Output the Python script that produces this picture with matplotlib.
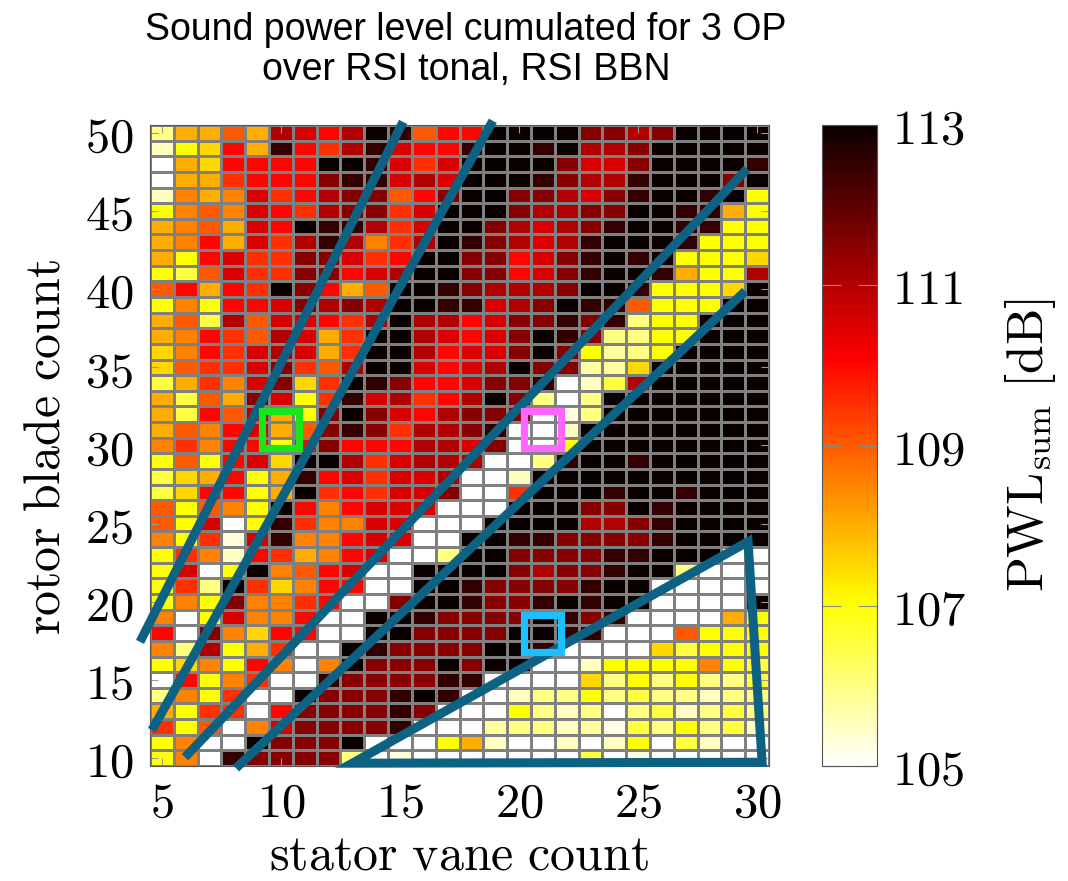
import matplotlib
matplotlib.use("Agg")
import matplotlib.pyplot as plt
import numpy as np
from matplotlib.patches import Rectangle, Polygon
from matplotlib.ticker import FuncFormatter

# ---------------- data ----------------
stator_vanes = list(range(5, 31))      # x categories
rotor_blades = list(range(50, 9, -1))  # y categories, top row first
pwl_min, pwl_max = 105, 113
cbar_ticks = [105, 107, 109, 111, 113]
x_ticks = [5, 10, 15, 20, 25, 30]
y_ticks = [10, 15, 20, 25, 30, 35, 40, 45, 50]

# level above 105 dB, one row per rotor blade count (50 -> 10), stator 5..30
pwl_excess_rows = [
    [1, 3, 3, 4, 3, 6, 5.5, 5, 6, 8, 7.5, 4, 5, 5, 8, 8, 8, 8, 6.5, 6.5, 6, 6.5, 8, 8, 8, 8],                # 50
    [0.5, 2, 2.5, 5, 3, 7.5, 5, 4.5, 6, 7.5, 5.5, 5, 5, 7.5, 8, 8, 7.5, 8, 6, 6, 6.5, 8, 8, 8, 8, 8],        # 49
    [0, 3, 2.5, 5, 5, 5, 5, 8, 8, 7.5, 5.5, 4.5, 5.5, 8, 8, 8, 8, 6.5, 5.5, 5.5, 6.5, 8, 8, 8, 8, 7.5],      # 48
    [0, 3, 3, 4.5, 5, 5, 5, 6.5, 7.5, 7.5, 5.5, 6, 5.5, 8, 8, 8, 7.5, 6.5, 6, 6, 7.5, 8, 8, 8, 6.5, 8],      # 47
    [0.5, 3.5, 3, 3.5, 5.5, 4.5, 5, 6, 6.5, 6.5, 4, 5, 6.5, 8, 8, 6.5, 6.5, 6, 5.5, 6.5, 7.5, 8, 8, 7.5, 8, 2],  # 46
    [2, 3.5, 4, 3.5, 5.5, 5, 4.5, 6, 6.5, 6.5, 4.5, 5.5, 8, 8, 8, 6.5, 6, 6, 6.5, 6.5, 8, 8, 7.5, 7.5, 3, 2],  # 45
    [3, 3.5, 4, 3, 5.5, 5, 8, 7.5, 7.5, 6, 4.5, 5.5, 8, 8, 6.5, 6, 5.5, 6, 6.5, 7.5, 8, 8, 7.5, 7.5, 2, 2],  # 44
    [3, 3.5, 5, 3, 5.5, 4.5, 6, 7.5, 6, 3.5, 4.5, 6, 8, 7.5, 6.5, 6, 5.5, 6, 7.5, 8, 8, 8, 7.5, 2, 2, 2],    # 43
    [3, 2, 5, 5.5, 4.5, 4.5, 6.5, 6.5, 5.5, 4.5, 5, 8, 8, 6.5, 6.5, 5, 5.5, 6.5, 7.5, 8, 7.5, 8, 2, 2, 2, 2.5],  # 42
    [2, 1.5, 4, 5.5, 4.5, 4.5, 6.5, 6.5, 5, 5.5, 6, 8, 8, 6.5, 6.5, 5, 5.5, 6.5, 7.5, 8, 8, 7.5, 3, 2, 2, 6],  # 41
    [4, 5, 3, 5, 4.5, 8, 6.5, 5, 3, 4, 8, 8, 7.5, 6.5, 6, 6, 6, 6.5, 8, 8, 7.5, 2, 2, 2, 2.5, 8],            # 40
    [2, 3.5, 2, 5, 5, 5.5, 6.5, 6, 6.5, 6, 8, 8, 7.5, 7.5, 5.5, 6, 6.5, 8, 7.5, 7.5, 4, 2, 2, 2, 8, 8],      # 39
    [3, 4, 1.5, 6, 4, 5.5, 5.5, 5, 4.5, 6, 8, 6, 6, 5, 5.5, 6.5, 6.5, 7.5, 6.5, 7.5, 1, 2, 2, 8, 8, 8],      # 38
    [3, 3.5, 5, 4.5, 4, 6, 5.5, 3, 4.5, 8, 8, 6, 5.5, 5, 5.5, 6.5, 8, 7.5, 6.5, 1, 1, 2, 2, 8, 8, 8],        # 37
    [2.5, 3.5, 5, 4.5, 5.5, 6, 5.5, 3, 4.5, 8, 8, 6, 5, 5.5, 5.5, 6.5, 8, 6.5, 2, 0.8, 1, 2, 8, 8, 8, 8],    # 36
    [2.5, 4, 4.5, 4.5, 5.5, 6.5, 4.5, 4, 6, 8, 8, 5.5, 5, 5.5, 6, 8, 6.5, 6.5, 0.8, 0.8, 2.5, 8, 8, 8, 8, 8],  # 35
    [1.5, 3, 4.5, 3.5, 5.5, 6.5, 2.5, 4.5, 8, 7.5, 6.5, 5, 5, 5.5, 6.5, 6.5, 7.5, 0, 0.5, 1.5, 6, 8, 8, 8, 8, 8],  # 34
    [3, 1.5, 4, 3, 6.5, 5.5, 2, 4.5, 7.5, 5.5, 6, 4.5, 5, 6, 8, 6.5, 1, 0, 1, 8, 8, 8, 8, 8, 8, 8],          # 33
    [3, 1.5, 5, 4, 6, 3, 2, 6.5, 8, 6.5, 5.5, 5, 6, 6.5, 6.5, 6.5, 0, 0.3, 1, 8, 8, 8, 8, 8, 8, 8],          # 32
    [3, 4, 3.5, 5, 5.5, 3, 4, 6.5, 7.5, 6.5, 4.5, 6, 6, 6.5, 7.5, 0, 0, 0.5, 8, 8, 8, 8, 8, 8, 8, 8],        # 31
    [3.5, 4.5, 3.5, 5, 5, 2, 5, 6.5, 5, 5, 5, 6, 6, 5.5, 6.5, 0, 0, 2, 8, 8, 8, 8, 8, 8, 8, 8],              # 30
    [2, 4, 2, 5, 5.5, 2.5, 8, 8, 6, 4.5, 5.5, 6, 6, 6, 0, 0, 1, 7.5, 8, 8, 7.5, 8, 8, 8, 8, 8],              # 29
    [1.5, 2.5, 3, 5, 2, 3, 7.5, 5, 5.5, 4.5, 5.5, 5.5, 6, 0, 0, 0.5, 8, 8, 8, 8, 8, 8, 8, 8, 8, 8],          # 28
    [1.5, 2.5, 5, 5, 2, 3, 8, 4.5, 5, 4.5, 5.5, 5.5, 6.5, 0, 0, 4.5, 8, 8, 8, 7.5, 8, 8, 7.5, 8, 8, 8],      # 27
    [4, 2, 4, 3.5, 2, 8, 5, 3.5, 5, 5.5, 5.5, 5.5, 0, 0, 0, 8, 8, 8, 6.5, 6.5, 8, 7.5, 8, 8, 8, 8],          # 26
    [4, 2, 5.5, 0, 2, 7.5, 4.5, 3.5, 3.5, 5.5, 5.5, 0, 0, 0, 8, 8, 8, 8, 6, 6, 6.5, 7.5, 8, 8, 8, 8],        # 25
    [3.5, 2, 4.5, 0.3, 5.5, 7.5, 3.5, 3.5, 5, 5.5, 5.5, 0, 0, 8, 8, 7.5, 7.5, 6.5, 6.5, 6.5, 6.5, 7.5, 8, 8, 8, 8],  # 24
    [2, 4.5, 3.5, 0.5, 5, 4.5, 3, 3.5, 5, 5.5, 0, 0, 1, 8, 8, 6.5, 6.5, 6.5, 6.5, 7.5, 7.5, 8, 8, 8, 0, 0],  # 23
    [2, 5.5, 0, 2, 8, 3.5, 4, 5, 5.5, 0, 0, 8, 8, 8, 8, 6.5, 6, 6.5, 6.5, 7.5, 8, 8, 1, 0, 0, 0],            # 22
    [2, 4.5, 1, 8, 4.5, 2.5, 3.5, 5, 5, 0, 0, 8, 8, 7.5, 6.5, 6.5, 6.5, 6.5, 7.5, 8, 8, 0, 0, 0, 0, 0],      # 21
    [2, 3.5, 2, 6.5, 3.5, 3.5, 4.5, 5, 0, 0, 6.5, 8, 8, 7.5, 6.5, 6.5, 7.5, 8, 7.5, 8, 8, 0, 0, 0, 0, 8],    # 20
    [3.5, 0, 2, 5.5, 3.5, 3.5, 5, 0, 0, 8, 8, 7.5, 6.5, 6.5, 6.5, 6.5, 8, 7.5, 6.5, 7.5, 0, 0, 0, 0, 3, 2],  # 19
    [5, 0, 6.5, 3.5, 2.5, 5, 5, 0, 0, 8, 8, 6.5, 6.5, 6.5, 6.5, 8, 8, 7.5, 7.5, 0, 0, 0, 4, 2, 2, 2],        # 18
    [3.5, 1, 6, 2, 3, 4.5, 0, 0, 8, 7.5, 6.5, 6.5, 6.5, 6.5, 8, 8, 7.5, 0, 0, 0, 0, 2.5, 1.5, 2, 2, 2],      # 17
    [2, 2.5, 3.5, 2, 5, 3.5, 0, 3.5, 8, 6.5, 6.5, 6.5, 8, 6.5, 8, 8, 0, 0, 0.5, 2, 2, 2, 2, 3.5, 2, 1.5],    # 16
    [0, 5, 2, 3.5, 4.5, 0, 0, 7.5, 6.5, 6.5, 6.5, 6.5, 7.5, 7.5, 0, 0, 0, 0, 2.5, 1, 2, 1, 2, 1, 1, 1.5],    # 15
    [1, 3.5, 2, 4.5, 0, 0, 8, 6.5, 6.5, 6.5, 7.5, 8, 7.5, 0, 0, 0.5, 1, 1, 2, 1, 1.5, 1, 1, 0.5, 1, 1],      # 14
    [3, 2, 4.5, 4.5, 0, 5, 6.5, 6.5, 6.5, 6.5, 7.5, 6.5, 0, 0, 0, 2, 1, 0.5, 1, 0, 1, 1.5, 0.5, 1, 1.5, 1],  # 13
    [4.5, 2, 4, 0, 3.5, 5.5, 6.5, 6.5, 6.5, 6.5, 7.5, 0, 0, 0, 0.8, 1, 1, 0.5, 0.8, 0.2, 1.5, 1, 2, 1, 1.5, 0.5],  # 12
    [2, 3.5, 0, 0, 8, 6.5, 6.5, 6.5, 8, 0, 0, 0, 2, 3, 0.5, 0, 0, 0.5, 0, 0.5, 2, 0, 1.5, 0.5, 0, 0],        # 11
    [2, 3.5, 0, 7.5, 6.5, 6.5, 6.5, 6.5, 1, 0, 0.3, 0, 0, 0, 0, 0, 0, 0, 1.5, 0, 0.3, 0, 0, 0, 0, 0],        # 10
]

# overlay annotations (data coordinates: stator, rotor)
line1_x, line1_y = [4.08, 15.13], [17.44, 50.7]
line2_x, line2_y = [4.58, 18.9], [11.79, 50.77]
line3_x, line3_y = [5.97, 29.58], [10.06, 47.69]
line4_x, line4_y = [8.11, 29.5], [9.36, 39.87]
triangle_x = [13.0, 29.62, 30.21]
triangle_y = [9.68, 23.85, 9.74]
marker_centers = [(10, 31), (21, 31), (21, 18)]
marker_colors = ["#19e619", "#ff66ff", "#1ebeff"]

title_text = "Sound power level cumulated for 3 OP\nover RSI tonal, RSI BBN"

# ---------------- plot ----------------
plt.rcParams["mathtext.fontset"] = "cm"
W, H = 1068, 881
fig = plt.figure(figsize=(W / 100, H / 100), dpi=100)
fig.patch.set_facecolor("white")

ax = fig.add_axes([150 / W, (H - 766) / H, 619 / W, 641 / H])

pwl = pwl_min + np.array(pwl_excess_rows, dtype=float)
x_edges = np.arange(stator_vanes[0] - 0.5, stator_vanes[-1] + 1.0, 1.0)
y_vals = np.array(rotor_blades)
y_edges = np.concatenate([y_vals + 0.5, [y_vals[-1] - 0.5]])
mesh = ax.pcolormesh(x_edges, y_edges, pwl, cmap="hot_r", vmin=pwl_min, vmax=pwl_max,
                     edgecolors="#808080", linewidth=0.8, shading="flat")

ax.set_xlim(x_edges[0], x_edges[-1])
ax.set_ylim(y_edges[-1], y_edges[0])
ax.set_xticks(x_ticks)
ax.set_yticks(y_ticks)
fmt = FuncFormatter(lambda v, p: r"$%d$" % v)
ax.xaxis.set_major_formatter(fmt)
ax.yaxis.set_major_formatter(fmt)
ax.tick_params(direction="in", length=6, width=0.8, color="#9a9a9a",
               top=True, right=True, labelsize=35)
ax.tick_params(axis="y", pad=12)
ax.tick_params(axis="x", pad=9)
for s in ax.spines.values():
    s.set_color("#555555")
    s.set_linewidth(0.8)

ax.set_xlabel(r"$\mathrm{stator\ vane\ count}$", fontsize=36)
ax.set_ylabel(r"$\mathrm{rotor\ blade\ count}$", fontsize=36)
ax.xaxis.label.set_va("center")
ax.yaxis.label.set_va("center")
ax.xaxis.set_label_coords((459 - 150) / 619, (766 - 856) / 641)
ax.yaxis.set_label_coords((46 - 150) / 619, (766 - 447) / 641)

teal = "#0d6283"
for lx, ly in [(line1_x, line1_y), (line2_x, line2_y), (line3_x, line3_y), (line4_x, line4_y)]:
    ax.plot(lx, ly, color=teal, lw=6.5, solid_capstyle="butt", clip_on=False, zorder=5)
ax.add_patch(Polygon(list(zip(triangle_x, triangle_y)), closed=True, fill=False,
                     edgecolor=teal, lw=6.5, joinstyle="miter", clip_on=False, zorder=5))

bw, bh = 37 / 23.8, 37 / 15.6
for (cx, cy), col in zip(marker_centers, marker_colors):
    ax.add_patch(Rectangle((cx - bw / 2, cy - bh / 2), bw, bh, fill=False,
                           edgecolor=col, lw=5.2, joinstyle="miter", zorder=6))

# colorbar
cax = fig.add_axes([822 / W, (H - 766) / H, 55 / W, 641 / H])
cb = fig.colorbar(mesh, cax=cax, ticks=cbar_ticks)
cb.ax.yaxis.set_major_formatter(fmt)
cb.ax.tick_params(direction="in", length=14, width=0.8, color="#8a8a8a",
                  left=True, right=True, labelsize=35, pad=11)
cb.outline.set_edgecolor("#555555")
cb.outline.set_linewidth(0.8)
fig.text(1030 / W, 1 - 445 / H, r"$\mathrm{PWL}_{\mathrm{sum}}\ [\mathrm{dB}]$",
         rotation=90, ha="center", va="center", fontsize=37)

fig.text(466 / W, 1 - 50 / H, title_text, ha="center", va="center",
         fontsize=27, family="Liberation Sans", linespacing=1.15)

fig.savefig("out.png", dpi=100, facecolor="white")
